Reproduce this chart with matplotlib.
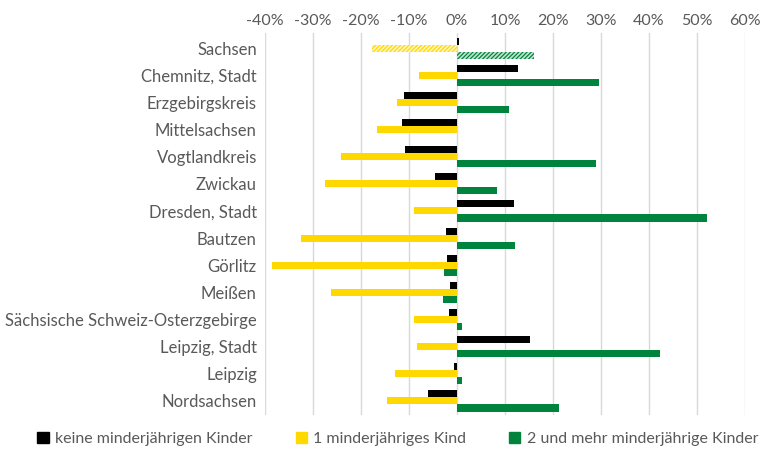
import numpy as np
import matplotlib.pyplot as plt
from matplotlib.patches import Patch
from matplotlib.ticker import FuncFormatter

plt.rcParams['font.family'] = ['Lato', 'DejaVu Sans']
plt.rcParams['hatch.linewidth'] = 0.9

# Regionen (von oben nach unten)
regionen = ["Sachsen", "Chemnitz, Stadt", "Erzgebirgskreis", "Mittelsachsen",
            "Vogtlandkreis", "Zwickau", "Dresden, Stadt", "Bautzen", "Görlitz",
            "Meißen", "Sächsische Schweiz-Osterzgebirge", "Leipzig, Stadt",
            "Leipzig", "Nordsachsen"]

# Veränderung in %
keine_kinder = [0.5, 12.6, -11.0, -11.5, -10.9, -4.6, 11.8, -2.4, -2.2, -1.5, -1.7, 15.3, -0.7, -6.0]
ein_kind = [-17.8, -8.0, -12.5, -16.7, -24.3, -27.6, -9.0, -32.6, -38.5, -26.2, -9.0, -8.3, -12.9, -14.6]
zwei_mehr = [16.0, 29.5, 10.8, 0.0, 28.9, 8.4, 52.2, 12.0, -2.7, -2.9, 1.0, 42.2, 1.1, 21.2]

legende = ["keine minderjährigen Kinder", "1 minderjähriges Kind", "2 und mehr minderjährige Kinder"]
x_ticks = [-40, -30, -20, -10, 0, 10, 20, 30, 40, 50, 60]

schwarz = "#000000"
gelb = "#FFD800"
gruen = "#00843D"
textfarbe = "#595959"

fig = plt.figure(figsize=(7.8, 4.55), dpi=100)
ax = fig.add_axes([0.34, 0.089, 0.615, 0.838])

y = np.arange(len(regionen))
h = 0.26

ax.barh(y - h, keine_kinder, height=h, color=schwarz, zorder=3)

# Sachsen gesamt schraffiert, Rest normal
for i in range(len(regionen)):
    if i == 0:
        ax.barh(y[i], ein_kind[i], height=h, facecolor="#FFF6C0", edgecolor=gelb,
                hatch="////////", linewidth=0, zorder=3)
        ax.barh(y[i] + h, zwei_mehr[i], height=h, facecolor="#C4E3CF", edgecolor=gruen,
                hatch="////////", linewidth=0, zorder=3)
    else:
        ax.barh(y[i], ein_kind[i], height=h, color=gelb, zorder=3)
        ax.barh(y[i] + h, zwei_mehr[i], height=h, color=gruen, zorder=3)

ax.set_ylim(len(regionen) - 0.5, -0.55)
ax.set_xlim(-40, 60)
ax.set_xticks(x_ticks)
ax.xaxis.set_major_formatter(FuncFormatter(lambda v, p: f"{v:.0f}%"))
ax.xaxis.tick_top()
ax.set_yticks(y)
ax.set_yticklabels(regionen)
ax.tick_params(axis='both', length=0, labelsize=11.5, colors=textfarbe)
ax.tick_params(axis='y', labelsize=12, pad=6)
ax.tick_params(axis='x', pad=4)
ax.grid(axis='x', color="#D9D9D9", linewidth=1, zorder=0)
for s in ax.spines.values():
    s.set_visible(False)

handles = [Patch(color=schwarz), Patch(color=gelb), Patch(color=gruen)]
fig.legend(handles, legende, loc='lower center', bbox_to_anchor=(0.51, -0.012), ncol=3,
           frameon=False, fontsize=11.5, labelcolor=textfarbe, handlelength=0.7,
           handleheight=0.7, handletextpad=0.4, columnspacing=2.7)

fig.savefig("out.png", dpi=100)
